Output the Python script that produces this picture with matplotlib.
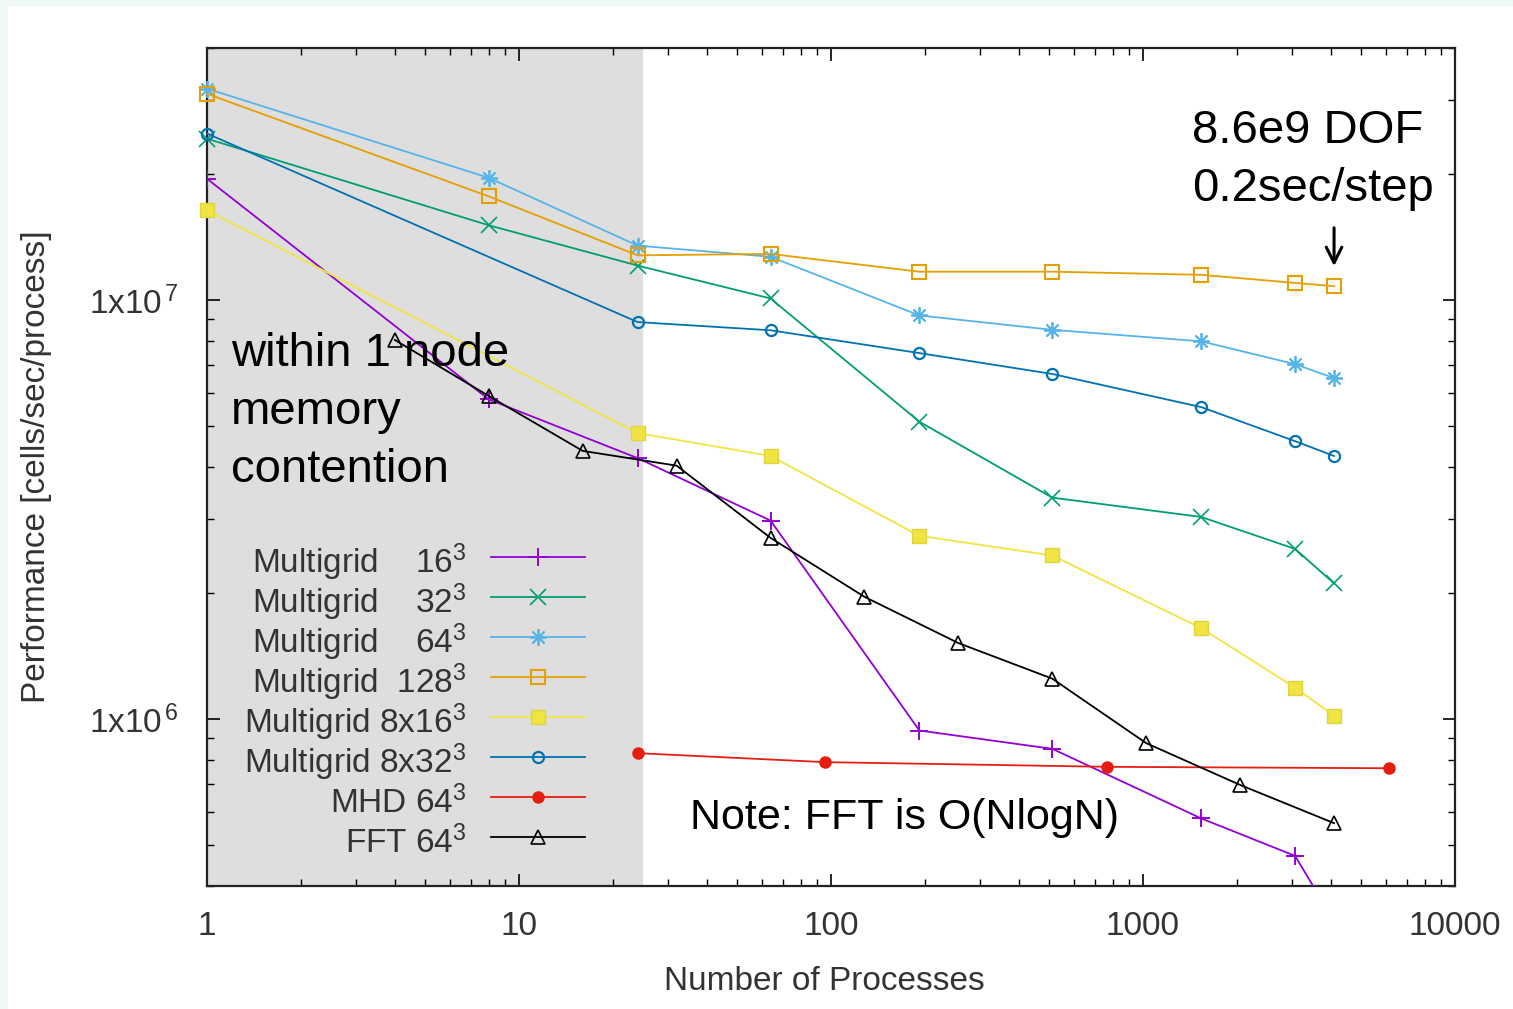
import numpy as np
import matplotlib
matplotlib.use("Agg")
import matplotlib.pyplot as plt
from matplotlib.patches import Rectangle

plt.rcParams['font.family'] = ['Liberation Sans', 'DejaVu Sans']
plt.rcParams['mathtext.fontset'] = 'custom'
plt.rcParams['mathtext.rm'] = 'Liberation Sans'
plt.rcParams['mathtext.it'] = 'Liberation Sans'

# processes (x) and performance in cells/sec/process (y)
mg16_x = [1, 8, 24, 64, 192, 512, 1536, 3072, 4096]
mg16_y = [1.95e7, 5.8e6, 4.2e6, 2.98e6, 9.4e5, 8.5e5, 5.8e5, 4.72e5, 3.3e5]

mg32_x = [1, 8, 24, 64, 192, 512, 1536, 3072, 4096]
mg32_y = [2.43e7, 1.51e7, 1.21e7, 1.01e7, 5.13e6, 3.38e6, 3.04e6, 2.55e6, 2.11e6]

mg64_x = [1, 8, 24, 64, 192, 512, 1536, 3072, 4096]
mg64_y = [3.2e7, 1.96e7, 1.35e7, 1.27e7, 9.2e6, 8.5e6, 7.98e6, 7.04e6, 6.52e6]

mg128_x = [1, 8, 24, 64, 192, 512, 1536, 3072, 4096]
mg128_y = [3.11e7, 1.77e7, 1.28e7, 1.29e7, 1.17e7, 1.17e7, 1.15e7, 1.10e7, 1.08e7]

mg8x16_x = [1, 24, 64, 192, 512, 1536, 3072, 4096]
mg8x16_y = [1.64e7, 4.82e6, 4.25e6, 2.74e6, 2.46e6, 1.65e6, 1.19e6, 1.02e6]

mg8x32_x = [1, 24, 64, 192, 512, 1536, 3072, 4096]
mg8x32_y = [2.50e7, 8.87e6, 8.48e6, 7.48e6, 6.67e6, 5.56e6, 4.61e6, 4.25e6]

mhd_x = [24, 96, 768, 6144]
mhd_y = [8.3e5, 7.9e5, 7.7e5, 7.64e5]

fft_x = [4, 8, 16, 32, 64, 128, 256, 512, 1024, 2048, 4096]
fft_y = [8.04e6, 5.91e6, 4.37e6, 4.03e6, 2.71e6, 1.96e6, 1.52e6, 1.25e6, 8.77e5, 6.97e5, 5.65e5]

node_limit = 25

fig = plt.figure(figsize=(15.13, 10.09), dpi=100)
fig.patch.set_facecolor('#eefaf3')
fig.add_artist(Rectangle((8 / 1513, 0), 1, 1 - 6 / 1009, transform=fig.transFigure,
                         facecolor='white', edgecolor='none', zorder=-10))

ax = fig.add_axes([207 / 1513, 1 - 886 / 1009, 1248 / 1513, 838 / 1009])
ax.set_xscale('log')
ax.set_yscale('log')
ax.set_xlim(1, 10000)
ax.set_ylim(4e5, 4e7)

ax.axvspan(1, node_limit, color='#dedede', lw=0, zorder=0)

lw = 1.3
series = [
    (mg16_x, mg16_y, 'Multigrid    16$^3$', '#9400d3', dict(marker='+', ms=13, mew=1.4)),
    (mg32_x, mg32_y, 'Multigrid    32$^3$', '#009e73', dict(marker='x', ms=11, mew=1.2)),
    (mg64_x, mg64_y, 'Multigrid    64$^3$', '#56b4e9', dict(marker=(8, 2, 0), ms=12, mew=1.3)),
    (mg128_x, mg128_y, 'Multigrid  128$^3$', '#e69f00', dict(marker='s', ms=10, mfc='none', mew=1.5)),
    (mg8x16_x, mg8x16_y, 'Multigrid 8x16$^3$', '#f0e442', dict(marker='s', ms=10, mec='#e0d440')),
    (mg8x32_x, mg8x32_y, 'Multigrid 8x32$^3$', '#0072b2', dict(marker='o', ms=8, mfc='none', mew=1.6)),
    (mhd_x, mhd_y, 'MHD 64$^3$', '#e51e10', dict(marker='o', ms=8)),
    (fft_x, fft_y, 'FFT 64$^3$', 'black', dict(marker='^', ms=10, mfc='none', mew=1.2)),
]
for xs, ys, label, color, mk in series:
    # only the 16^3 curve runs off the bottom and needs clipping
    clip = min(ys) < 4e5
    ax.plot(xs, ys, color=color, lw=lw, label=label, clip_on=clip, zorder=3, **mk)

gray = '#333333'
ax.tick_params(which='both', direction='in', top=True, right=True)
ax.tick_params(which='major', length=9, width=1.2)
ax.tick_params(which='minor', length=5, width=1.0)
ax.tick_params(axis='x', which='major', pad=18, labelsize=24, labelcolor=gray)
ax.tick_params(axis='y', which='major', pad=20, labelsize=24, labelcolor=gray)
for s in ax.spines.values():
    s.set_linewidth(1.6)
    s.set_color('#222222')

ax.set_xticks([1, 10, 100, 1000, 10000])
ax.set_xticklabels(['1', '10', '100', '1000', '10000'])
ax.set_yticks([1e6, 1e7])
ax.set_yticklabels(['1x10$^{\\,6}$', '1x10$^{\\,7}$'])
ax.yaxis.set_minor_formatter(matplotlib.ticker.NullFormatter())
ax.xaxis.set_minor_formatter(matplotlib.ticker.NullFormatter())

ax.set_xlabel('Number of Processes', fontsize=24, color=gray)
ax.xaxis.set_label_coords(0.495, -0.096)
ax.set_ylabel('Performance [cells/sec/process]', fontsize=24, color=gray)
ax.yaxis.set_label_coords(-0.124, 0.5)

# tall handle boxes keep every legend row the same height
leg = ax.legend(loc='lower left', bbox_to_anchor=(0.030, 0.027), frameon=False,
                markerfirst=False, fontsize=24, handlelength=2.8, handletextpad=0.75,
                handleheight=1.6, labelspacing=-0.085, borderpad=0, borderaxespad=0)
for t in leg.get_texts():
    t.set_color(gray)

ax.text(0.019, 0.566, 'within 1 node\nmemory\ncontention', transform=ax.transAxes,
        fontsize=34, ha='left', va='center', linespacing=1.41, zorder=5)
ax.text(0.559, 0.081, 'Note: FFT is O(NlogN)', transform=ax.transAxes,
        fontsize=31, ha='center', va='center', zorder=5)
ax.text(0.789, 0.866, '8.6e9 DOF\n0.2sec/step', transform=ax.transAxes,
        fontsize=34, ha='left', va='center', linespacing=1.4, zorder=5)
ax.annotate('', xy=(mg128_x[-1], mg128_y[-1] * 1.1), xytext=(mg128_x[-1], mg128_y[-1] * 1.4),
            arrowprops=dict(arrowstyle='->', lw=2.2, color='black', mutation_scale=28))

fig.savefig('out.png', dpi=100, facecolor=fig.get_facecolor())
